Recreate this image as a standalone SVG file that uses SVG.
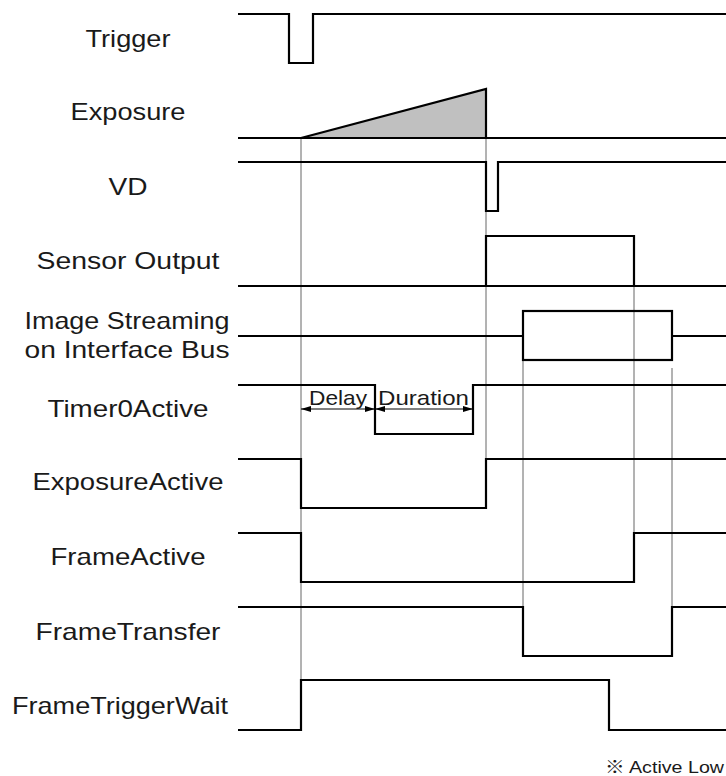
<svg xmlns="http://www.w3.org/2000/svg" width="726" height="776" viewBox="0 0 726 776">
<style>
.lbl{font-family:"Liberation Sans",Arial,sans-serif;font-size:24px;fill:#1a1a1a;text-anchor:middle}
.sm{font-family:"Liberation Sans",Arial,sans-serif;font-size:21px;fill:#1a1a1a;text-anchor:middle}
.note{font-family:"Liberation Sans","Noto Sans CJK JP",sans-serif;font-size:17px;fill:#1a1a1a;text-anchor:end}
.sig{fill:none;stroke:#000;stroke-width:2.2}
.guide{fill:none;stroke:#666;stroke-width:1}
.dim{fill:none;stroke:#000;stroke-width:1;marker-start:url(#ah);marker-end:url(#ah)}
</style>
<defs>
<marker id="ah" viewBox="0 0 10 6" refX="10" refY="3" markerWidth="10" markerHeight="6" markerUnits="userSpaceOnUse" orient="auto-start-reverse">
<path d="M0,0 L10,3 L0,6 Z" fill="#000"/>
</marker>
</defs>
<rect width="726" height="776" fill="#fff"/>
<g id="guides">
<line class="guide" x1="301" y1="138" x2="301" y2="730"/>
<line class="guide" x1="486" y1="138" x2="486" y2="459"/>
<line class="guide" x1="523" y1="360" x2="523" y2="607"/>
<line class="guide" x1="634" y1="286" x2="634" y2="533"/>
<line class="guide" x1="672" y1="368" x2="672" y2="607"/>
</g>
<g id="trigger">
<text class="lbl" x="128" y="47" textLength="85" lengthAdjust="spacingAndGlyphs">Trigger</text>
<path class="sig" d="M238,14 H289 V63 H313 V14 H726"/>
</g>
<g id="exposure">
<text class="lbl" x="128" y="120" textLength="115" lengthAdjust="spacingAndGlyphs">Exposure</text>
<path d="M301,138 L486,89 V138 Z" fill="#c0c0c0" stroke="#000" stroke-width="2.2" stroke-linejoin="miter"/>
<path class="sig" d="M238,138 H726"/>
</g>
<g id="vd">
<text class="lbl" x="128" y="195" textLength="39" lengthAdjust="spacingAndGlyphs">VD</text>
<path class="sig" d="M238,162 H486 V211 H498 V162 H726"/>
</g>
<g id="sensor-output">
<text class="lbl" x="128" y="269" textLength="183" lengthAdjust="spacingAndGlyphs">Sensor Output</text>
<path class="sig" d="M238,286 H726"/>
<path class="sig" d="M486,286 V236 H634 V286"/>
</g>
<g id="image-streaming">
<text class="lbl" x="127" y="329" textLength="205" lengthAdjust="spacingAndGlyphs">Image Streaming</text>
<text class="lbl" x="127" y="358" textLength="205" lengthAdjust="spacingAndGlyphs">on Interface Bus</text>
<path class="sig" d="M238,336 H523 M672,336 H726"/>
<rect class="sig" x="523" y="311" width="149" height="49"/>
</g>
<g id="timer0active">
<text class="lbl" x="128" y="417" textLength="161" lengthAdjust="spacingAndGlyphs">Timer0Active</text>
<path class="sig" d="M238,385 H375 V434 H473 V385 H726"/>
<line class="dim" x1="301" y1="409" x2="375" y2="409"/>
<line class="dim" x1="375" y1="409" x2="473" y2="409"/>
<text class="sm" x="338" y="405" textLength="58" lengthAdjust="spacingAndGlyphs">Delay</text>
<text class="sm" x="423.5" y="405" textLength="91" lengthAdjust="spacingAndGlyphs">Duration</text>
</g>
<g id="exposureactive">
<text class="lbl" x="128" y="490" textLength="191" lengthAdjust="spacingAndGlyphs">ExposureActive</text>
<path class="sig" d="M238,459 H301 V508 H486 V459 H726"/>
</g>
<g id="frameactive">
<text class="lbl" x="128" y="565" textLength="155" lengthAdjust="spacingAndGlyphs">FrameActive</text>
<path class="sig" d="M238,533 H301 V582 H634 V533 H726"/>
</g>
<g id="frametransfer">
<text class="lbl" x="128" y="640" textLength="185" lengthAdjust="spacingAndGlyphs">FrameTransfer</text>
<path class="sig" d="M238,607 H523 V656 H672 V607 H726"/>
</g>
<g id="frametriggerwait">
<text class="lbl" x="120" y="714" textLength="216" lengthAdjust="spacingAndGlyphs">FrameTriggerWait</text>
<path class="sig" d="M238,730 H301 V680 H609 V730 H726"/>
</g>
<text class="note" x="724" y="773" textLength="119" lengthAdjust="spacingAndGlyphs">※ Active Low</text>
</svg>
